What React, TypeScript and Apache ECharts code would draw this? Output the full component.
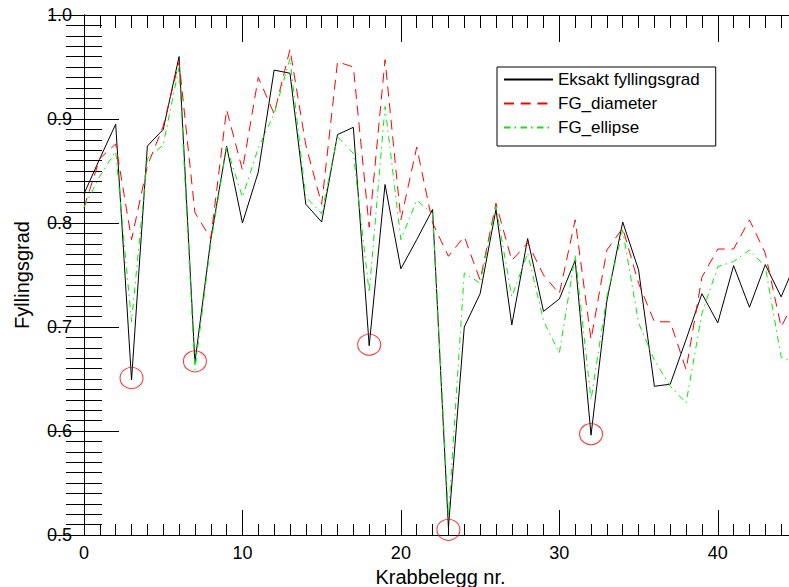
import React, { useEffect, useRef } from "react";
import * as echarts from "echarts";

const xIndex: number[] = Array.from({ length: 46 }, (_, i) => i);

const eksakt: number[] = [
  0.828, 0.862, 0.895, 0.649, 0.874, 0.89, 0.96, 0.666, 0.784, 0.874,
  0.8, 0.849, 0.947, 0.944, 0.818, 0.801, 0.885, 0.892, 0.682, 0.837,
  0.756, 0.784, 0.813, 0.507, 0.7, 0.732, 0.813, 0.702, 0.785, 0.715,
  0.727, 0.764, 0.596, 0.725, 0.801, 0.755, 0.643, 0.645, 0.688, 0.732,
  0.704, 0.759, 0.719, 0.76, 0.729, 0.765,
];

const fgDiameter: number[] = [
  0.815, 0.862, 0.876, 0.784, 0.855, 0.893, 0.955, 0.81, 0.785, 0.909,
  0.851, 0.94, 0.905, 0.967, 0.875, 0.818, 0.955, 0.95, 0.796, 0.957,
  0.803, 0.873, 0.8, 0.768, 0.787, 0.745, 0.819, 0.764, 0.781, 0.75,
  0.732, 0.803, 0.688, 0.774, 0.795, 0.742, 0.705, 0.705, 0.659, 0.748,
  0.775, 0.775, 0.803, 0.771, 0.7, 0.73,
];

const fgEllipse: number[] = [
  0.815, 0.845, 0.869, 0.705, 0.862, 0.875, 0.95, 0.659, 0.78, 0.873,
  0.825, 0.872, 0.905, 0.958, 0.825, 0.809, 0.883, 0.867, 0.733, 0.912,
  0.784, 0.822, 0.809, 0.518, 0.752, 0.742, 0.816, 0.729, 0.771, 0.706,
  0.675, 0.769, 0.63, 0.729, 0.793, 0.704, 0.668, 0.643, 0.627, 0.713,
  0.758, 0.763, 0.774, 0.758, 0.671, 0.665,
];

const circleX: number[] = [3, 7, 18, 23, 32];
const circleY: number[] = [0.651, 0.667, 0.683, 0.505, 0.597];

const seriesNames: string[] = ["Eksakt fyllingsgrad", "FG_diameter", "FG_ellipse"];
const xAxisTitle = "Krabbelegg nr.";
const yAxisTitle = "Fyllingsgrad";

const FONT = "'Liberation Sans', Arial, Helvetica, sans-serif";

export default function App() {
  const ref = useRef<HTMLDivElement>(null);

  useEffect(() => {
    document.body.style.margin = "0";
    if (!ref.current) return;
    const chart = echarts.init(ref.current, undefined, { renderer: "svg" });

    const black = "#000";
    const baseX = {
      type: "value" as const,
      min: 0,
      max: 45,
      splitLine: { show: false },
      axisLine: { show: false },
      axisLabel: { show: false },
    };
    const baseY = {
      type: "value" as const,
      min: 0.5,
      max: 1.0,
      interval: 0.1,
      splitLine: { show: false },
      minorSplitLine: { show: false },
    };

    chart.setOption({
      animation: false,
      backgroundColor: "#fff",
      textStyle: { fontFamily: FONT, color: black },
      grid: {
        left: 84,
        right: -8,
        top: 15,
        bottom: 52,
        containLabel: false,
        outerBoundsMode: "none",
      },
      legend: {
        data: seriesNames,
        orient: "vertical",
        left: 497,
        top: 67,
        itemWidth: 49,
        itemHeight: 2,
        itemGap: 7,
        padding: [4, 16, 10, 6],
        borderColor: "#000",
        borderWidth: 1,
        backgroundColor: "#fff",
        selectedMode: false,
        itemStyle: { opacity: 0 },
        textStyle: { fontSize: 17, color: black, fontFamily: FONT },
      },
      xAxis: [
        {
          ...baseX,
          position: "bottom",
          interval: 10,
          axisLine: { show: true, lineStyle: { color: black, width: 1 } },
          axisTick: { show: true, inside: true, length: 25, lineStyle: { color: black } },
          axisLabel: {
            show: true,
            fontSize: 18,
            margin: 9,
            color: black,
            showMaxLabel: false,
          },
          name: xAxisTitle,
          nameLocation: "middle",
          nameGap: 32,
          nameTextStyle: { fontSize: 20, color: black },
        },
        {
          ...baseX,
          position: "bottom",
          interval: 1,
          axisTick: { show: true, inside: true, length: 11, lineStyle: { color: black } },
        },
        {
          ...baseX,
          position: "top",
          interval: 10,
          axisLine: { show: true, lineStyle: { color: black, width: 1 } },
          axisTick: { show: true, inside: true, length: 27, lineStyle: { color: black } },
        },
        {
          ...baseX,
          position: "top",
          interval: 1,
          axisTick: { show: true, inside: true, length: 13, lineStyle: { color: black } },
        },
      ],
      yAxis: [
        {
          ...baseY,
          position: "left",
          axisLine: { show: true, lineStyle: { color: black, width: 1 } },
          axisTick: { show: true, inside: true, length: 35, lineStyle: { color: black } },
          minorTick: {
            show: true,
            splitNumber: 10,
            length: 18,
            lineStyle: { color: black },
          },
          axisLabel: {
            fontSize: 18,
            margin: 12,
            color: black,
            formatter: (v: number) => v.toFixed(1),
          },
          name: yAxisTitle,
          nameLocation: "middle",
          nameGap: 52,
          nameRotate: 90,
          nameTextStyle: { fontSize: 20, color: black },
        },
        {
          ...baseY,
          position: "right",
          axisLine: { show: true, lineStyle: { color: black, width: 1 } },
          axisTick: { show: true, inside: true, length: 35, lineStyle: { color: black } },
          minorTick: {
            show: true,
            splitNumber: 10,
            length: 18,
            lineStyle: { color: black },
          },
          axisLabel: { show: false },
        },
      ],
      series: [
        {
          name: seriesNames[0],
          type: "line",
          xAxisIndex: 0,
          yAxisIndex: 0,
          data: xIndex.map((x, i) => [x, eksakt[i]]),
          symbol: "none",
          color: "#000",
          lineStyle: { color: "#000", width: 1, type: "solid" },
        },
        {
          name: seriesNames[1],
          type: "line",
          xAxisIndex: 0,
          yAxisIndex: 0,
          data: xIndex.map((x, i) => [x, fgDiameter[i]]),
          symbol: "none",
          color: "#ff0000",
          lineStyle: { color: "#ff0000", width: 1, type: [10, 6.7] },
        },
        {
          name: seriesNames[2],
          type: "line",
          xAxisIndex: 0,
          yAxisIndex: 0,
          data: xIndex.map((x, i) => [x, fgEllipse[i]]),
          symbol: "none",
          color: "#00ee00",
          lineStyle: { color: "#00ee00", width: 1, type: [6.5, 4, 1.5, 4.5] },
        },
        {
          name: "circles",
          type: "scatter",
          xAxisIndex: 0,
          yAxisIndex: 0,
          data: circleX.map((x, i) => [x, circleY[i]]),
          symbol: "circle",
          symbolSize: [23, 21],
          itemStyle: { color: "rgba(0,0,0,0)", borderColor: "#ff0000", borderWidth: 1 },
          z: 5,
        },
      ],
    });

    return () => chart.dispose();
  }, []);

  return <div ref={ref} style={{ width: 789, height: 587 }} />;
}
